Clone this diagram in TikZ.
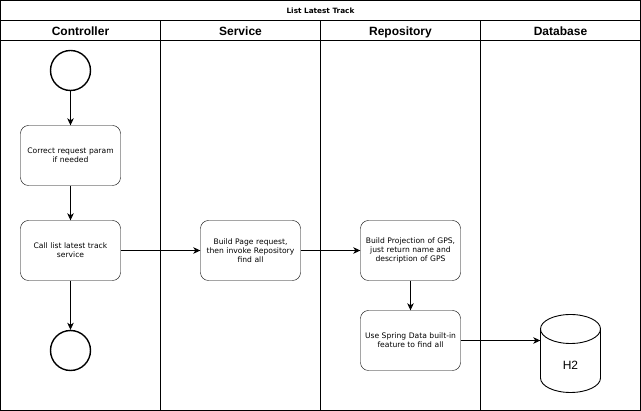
\documentclass[tikz,border=0pt]{standalone}
\usepackage{fontspec}
\setmainfont{DejaVu Sans}
\newfontfamily\headfont{Liberation Sans}
\usetikzlibrary{shapes, positioning, arrows.meta}

\begin{document}
\begin{tikzpicture}[x=1pt, y=-1pt,
        act/.style={draw, rounded corners=8pt, minimum width=100pt, minimum height=60pt,
            inner sep=1pt, text width=98pt, align=center, font=\fontsize{7.6}{9.2}\selectfont},
        ev/.style={circle, draw, line width=1.4pt, minimum size=40pt},
        head/.style={anchor=base, font=\headfont\bfseries\fontsize{12}{14}\selectfont},
        flow/.style={-{Stealth[length=7pt, width=6.5pt, inset=2pt]}, line width=0.8pt}]
        \useasboundingbox (-0.5, -0.5) rectangle (640.5, 410.5);

        % pool and lanes
        \draw[line width=0.9pt] (0, 0) rectangle (640, 410);
        \draw[line width=0.9pt] (0, 20) -- (640, 20)
            (0, 40) -- (640, 40)
            (160, 20) -- (160, 410)
            (320, 20) -- (320, 410)
            (480, 20) -- (480, 410);
        \node[anchor=base, font=\bfseries\fontsize{7.3}{8}\selectfont] (title) at (320, 12.6) {List Latest Track};
        \node[head] (controller) at (80, 34.6) {Controller};
        \node[head] (service) at (240, 34.6) {Service};
        \node[head] (repository) at (400, 34.6) {Repository};
        \node[head] (database) at (560, 34.6) {Database};

        % steps
        \node[ev] (start) at (70, 70) {};
        \node[act] (correct) at (70, 155) {Correct request param\\if needed};
        \node[act] (call) at (70, 250) {Call list latest track\\service};
        \node[ev] (stop) at (70, 350) {};
        \node[act] (page) at (250, 250) {Build Page request,\\then invoke Repository\\find all};
        \node[act] (proj) at (410, 250) {Build Projection of GPS,\\just return name and\\description of GPS};
        \node[act] (spring) at (410, 340) {Use Spring Data built-in\\feature to find all};

        % database cylinder
        \node[minimum width=60pt, minimum height=78pt, inner sep=0pt] (db) at (570, 353) {};
        \draw[line width=0.9pt] (570, 328.5) ellipse [x radius=30pt, y radius=14.5pt];
        \draw[line width=0.9pt] (540, 328.5) -- (540, 377.5)
            arc[start angle=180, end angle=360, x radius=30pt, y radius=14.5pt] -- (600, 328.5);
        \node[font=\headfont\fontsize{12}{14}\selectfont] (h2) at (570, 365) {H2};

        \draw[flow] (start) to (correct);
        \draw[flow] (correct) to (call);
        \draw[flow] (call) to (stop);
        \draw[flow] (call) to (page);
        \draw[flow] (page) to (proj);
        \draw[flow] (proj) to (spring);
        \draw[flow] (spring.east) to (spring.east -| db.west);
    \end{tikzpicture}
\end{document}
